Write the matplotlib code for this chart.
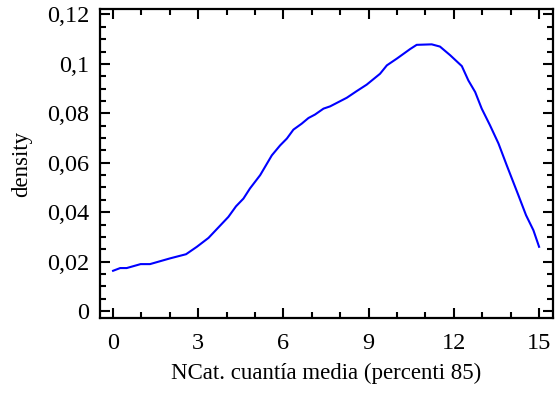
import matplotlib
matplotlib.use("Agg")
import matplotlib.pyplot as plt
from matplotlib.ticker import MultipleLocator, FixedLocator, FixedFormatter

# Data
x_vals = [0.0, 0.25, 0.48, 0.97, 1.3, 2.0, 2.57, 2.95, 3.36, 4.06, 4.33, 4.59,
          4.82, 5.18, 5.59, 5.88, 6.12, 6.35, 6.64, 6.88, 7.11, 7.41, 7.64,
          8.23, 8.58, 8.93, 9.40, 9.64, 10.0, 10.46, 10.69, 11.22, 11.51,
          11.87, 12.28, 12.51, 12.75, 12.98, 13.27, 13.57, 13.86, 14.27,
          14.54, 14.8, 15.0]
density = [0.0163, 0.0174, 0.0174, 0.0190, 0.0190, 0.0213, 0.0230, 0.0260,
           0.0296, 0.0381, 0.0424, 0.0455, 0.0496, 0.0550, 0.0630, 0.0670,
           0.0698, 0.0734, 0.0758, 0.0781, 0.0795, 0.0819, 0.0828, 0.0863,
           0.0890, 0.0916, 0.0960, 0.0994, 0.1022, 0.1060, 0.1077, 0.1079,
           0.1070, 0.1035, 0.0991, 0.0933, 0.0886, 0.0819, 0.0752, 0.0678,
           0.0590, 0.0469, 0.0388, 0.0327, 0.0260]

x_ticks = [0, 3, 6, 9, 12, 15]
x_tick_labels = ["0", "3", "6", "9", "12", "15"]
y_ticks = [0, 0.02, 0.04, 0.06, 0.08, 0.1, 0.12]
y_tick_labels = ["0", "0,02", "0,04", "0,06", "0,08", "0,1", "0,12"]

x_label = "NCat. cuantía media (percenti 85)"
y_label = "density"

plt.rcParams["font.family"] = ["Liberation Serif", "DejaVu Serif"]

fig = plt.figure(figsize=(5.55, 3.98), dpi=100)
ax = fig.add_axes([100/555, 1 - 318/398, 453/555, 309/398])

ax.plot(x_vals, density, color="#0000ff", linewidth=1.5)

ax.set_xlim(-0.46, 15.49)
ax.set_ylim(-0.0028, 0.1222)

ax.xaxis.set_major_locator(FixedLocator(x_ticks))
ax.xaxis.set_major_formatter(FixedFormatter(x_tick_labels))
ax.yaxis.set_major_locator(FixedLocator(y_ticks))
ax.yaxis.set_major_formatter(FixedFormatter(y_tick_labels))
ax.xaxis.set_minor_locator(MultipleLocator(1))
ax.yaxis.set_minor_locator(MultipleLocator(0.005))

ax.tick_params(which="both", direction="in", top=True, right=True, width=1.5,
               colors="black")
ax.tick_params(which="major", length=7, labelsize=17.5)
ax.tick_params(axis="x", which="major", pad=11)
ax.tick_params(axis="y", which="major", pad=7.5)
ax.tick_params(which="minor", length=4)
for s in ax.spines.values():
    s.set_linewidth(1.6)

ax.set_xlabel(x_label, fontsize=16.5, labelpad=6)
ax.set_ylabel(y_label, fontsize=16.5, labelpad=11)

fig.savefig("out.png", dpi=100)
